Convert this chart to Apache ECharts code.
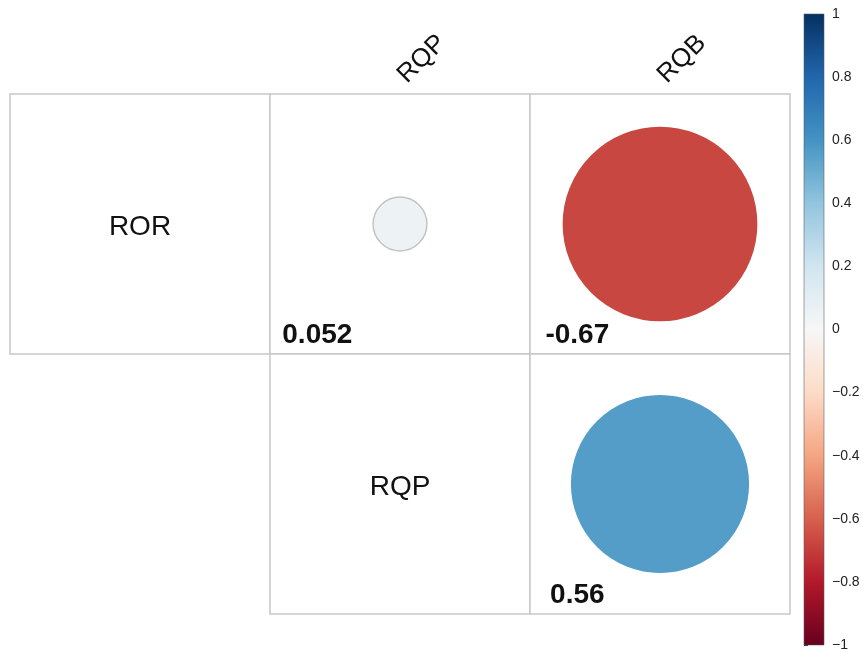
<!DOCTYPE html>
<html>
<head>
<meta charset="utf-8">
<script src="https://cdn.jsdelivr.net/npm/echarts@6/dist/echarts.min.js"></script>
<style>
html,body{margin:0;padding:0;background:#fff;}
#chart{width:863px;height:652px;}
</style>
</head>
<body>
<div id="chart"></div>
<script>
// ---- data ----
const variables = ['ROR', 'RQP', 'RQB'];     // columns
const rowVars = ['ROR', 'RQP'];              // rows
const corrROR = [1, 0.052, -0.67];
const corrRQP = [0.052, 1, 0.56];
const colorbarTicks = [-1, -0.8, -0.6, -0.4, -0.2, 0, 0.2, 0.4, 0.6, 0.8, 1];

// RdBu palette (low -> high)
const palette = ['#67001f', '#b2182b', '#d6604d', '#f4a582', '#fddbc7', '#f7f7f7',
                 '#d1e5f0', '#92c5de', '#4393c3', '#2166ac', '#053061'];

const matrix = [corrROR, corrRQP];
const cells = [];
matrix.forEach((row, r) => {
  row.forEach((v, c) => {
    if (c >= r) cells.push([c, r, v, c === r ? 1 : 0]);
  });
});

const FONT = 'Liberation Sans, Arial, Helvetica, sans-serif';
const chart = echarts.init(document.getElementById('chart'));

function renderCell(params, api) {
  const c = api.value(0), r = api.value(1), v = api.value(2), diag = api.value(3);
  const center = api.coord([c, r]);
  const size = api.size([1, 1]);
  const w = size[0], h = size[1];
  const x0 = center[0] - w / 2, y0 = center[1] - h / 2;
  const children = [{
    type: 'rect',
    shape: { x: x0, y: y0, width: w, height: h },
    style: { fill: '#fff', stroke: '#c8c8c8', lineWidth: 1.5 },
    z2: 0
  }];
  // column header above the top row (skip the first column)
  if (r === 0 && c > 0) {
    children.push({
      type: 'text',
      x: center[0] + 2, y: y0 - 15, rotation: Math.PI / 4,
      style: {
        x: 0, y: 0, text: variables[c],
        fill: '#111', font: '26px ' + FONT, align: 'left', verticalAlign: 'middle'
      },
      z2: 3
    });
  }
  if (diag) {
    children.push({
      type: 'text',
      style: {
        x: center[0], y: center[1] + 3, text: rowVars[r],
        fill: '#111', font: '28px ' + FONT, align: 'center', verticalAlign: 'middle'
      },
      z2: 3
    });
  } else {
    const color = api.visual('color');
    const rad = 0.454 * w * Math.sqrt(Math.abs(v));
    children.push({
      type: 'circle',
      shape: { cx: center[0], cy: center[1], r: rad },
      style: { fill: color, stroke: Math.abs(v) < 0.2 ? '#c4c4c4' : color, lineWidth: 1.5 },
      z2: 1
    });
    children.push({
      type: 'text',
      style: {
        x: center[0] - 0.318 * w, y: y0 + h - 19, text: String(v),
        fill: '#111', font: 'bold 28px ' + FONT, align: 'center', verticalAlign: 'middle'
      },
      z2: 3
    });
  }
  return { type: 'group', children: children };
}

function renderBar(params, api) {
  const top = api.coord([0, api.value(1)]);
  const bot = api.coord([1, api.value(0)]);
  const stops = palette.map((col, i) => ({ offset: 1 - i / (palette.length - 1), color: col }));
  return {
    type: 'rect',
    shape: { x: top[0], y: top[1], width: bot[0] - top[0], height: bot[1] - top[1] },
    style: {
      fill: new echarts.graphic.LinearGradient(0, 0, 0, 1, stops.reverse()),
      stroke: 'rgba(90,90,90,0.55)', lineWidth: 1
    }
  };
}

const option = {
  animation: false,
  backgroundColor: '#fff',
  grid: [
    { left: 10, top: 94, width: 780, height: 520 },
    { left: 804, top: 14, width: 20, height: 633 }
  ],
  xAxis: [
    {
      gridIndex: 0, type: 'category', data: variables, position: 'top',
      axisLine: { show: false }, axisTick: { show: false }, splitLine: { show: false },
      axisLabel: { show: false }
    },
    { gridIndex: 1, type: 'value', min: 0, max: 1, show: false }
  ],
  yAxis: [
    {
      gridIndex: 0, type: 'category', data: rowVars, inverse: true, show: false
    },
    {
      gridIndex: 1, type: 'value', min: -1, max: 1, interval: 0.2, position: 'right',
      axisLine: { show: false },
      axisTick: { show: true, length: 4, lineStyle: { color: '#333', width: 1 } },
      splitLine: { show: false },
      axisLabel: {
        margin: 8, fontSize: 14, color: '#222', fontFamily: FONT,
        formatter: v => String(Math.round(v * 10) / 10).replace('-', '\u2212')
      }
    }
  ],
  visualMap: {
    show: false, type: 'continuous', min: -1, max: 1, dimension: 2, seriesIndex: 0,
    inRange: { color: palette }
  },
  series: [
    {
      type: 'custom', xAxisIndex: 0, yAxisIndex: 0, clip: false,
      renderItem: renderCell, data: cells, encode: { x: 0, y: 1 }
    },
    {
      type: 'custom', xAxisIndex: 1, yAxisIndex: 1,
      renderItem: renderBar, data: [[colorbarTicks[0], colorbarTicks[colorbarTicks.length - 1]]],
      encode: { y: [0, 1] }
    }
  ]
};
chart.setOption(option);
</script>
</body>
</html>
